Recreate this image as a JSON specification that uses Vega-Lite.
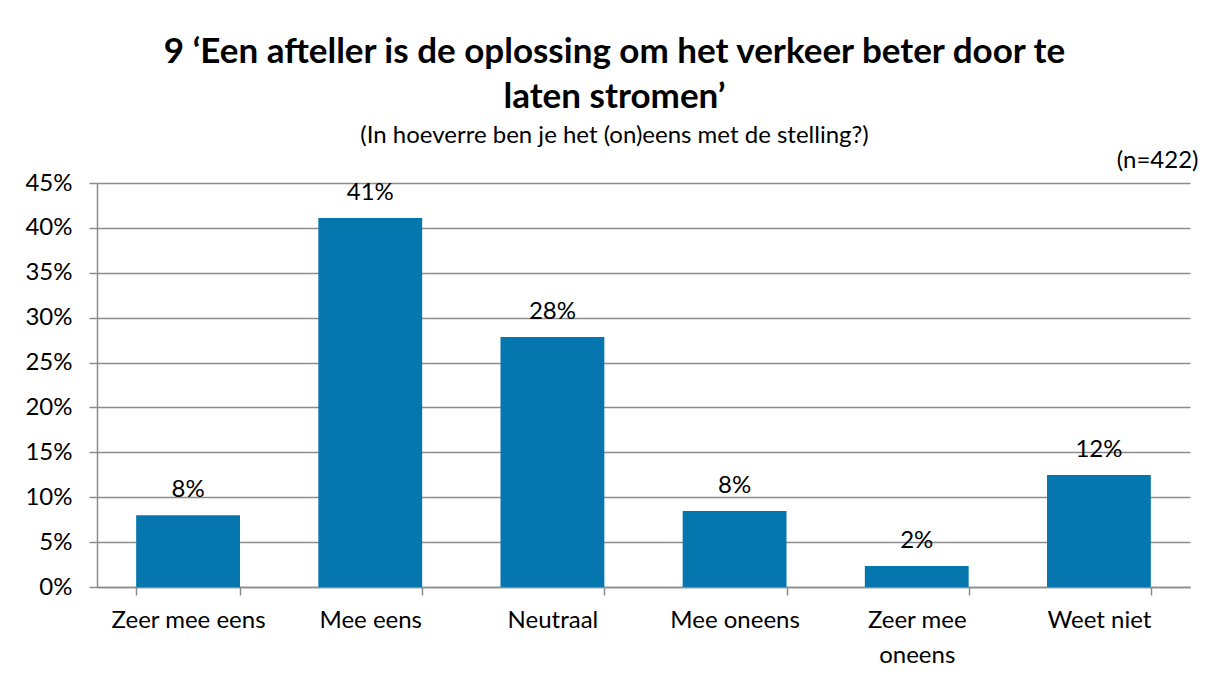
{
  "$schema": "https://vega.github.io/schema/vega-lite/v6.json",
  "autosize": "none",
  "width": 1093,
  "height": 404,
  "padding": {"left": 97, "top": 183, "right": 24, "bottom": 95},
  "background": "white",
  "data": {
    "values": [
      {"cat": "Zeer mee eens", "value": 0.080},
      {"cat": "Mee eens", "value": 0.411},
      {"cat": "Neutraal", "value": 0.2785},
      {"cat": "Mee oneens", "value": 0.0847},
      {"cat": "Zeer mee oneens", "value": 0.0234},
      {"cat": "Weet niet", "value": 0.1247}
    ]
  },
  "title": {
    "text": ["9 ‘Een afteller is de oplossing om het verkeer beter door te", "laten stromen’"],
    "subtitle": "(In hoeverre ben je het (on)eens met de stelling?)",
    "anchor": "middle",
    "dx": -29,
    "offset": 0,
    "font": "Lato",
    "fontSize": 35,
    "fontWeight": "bold",
    "lineHeight": 45,
    "color": "#000000",
    "subtitleFont": "Lato",
    "subtitleFontSize": 24,
    "subtitleColor": "#000000",
    "subtitlePadding": 9
  },
  "encoding": {
    "x": {
      "field": "cat",
      "type": "nominal",
      "sort": null,
      "scale": {"paddingInner": 0.43, "paddingOuter": 0.215},
      "axis": {
        "title": null,
        "labelAngle": 0,
        "labelFont": "Lato",
        "labelFontSize": 24,
        "labelColor": "#000000",
        "labelPadding": 13,
        "labelLineHeight": 35,
        "labelExpr": "datum.value == 'Zeer mee oneens' ? ['Zeer mee', 'oneens'] : datum.value",
        "tickBand": "extent",
        "tickSize": 8,
        "tickColor": "#8c8c8c",
        "domainColor": "#8c8c8c",
        "domainWidth": 1.5,
        "tickWidth": 1.5
      }
    },
    "y": {
      "field": "value",
      "type": "quantitative",
      "scale": {"domain": [0, 0.45]},
      "axis": {
        "values": [0, 0.05, 0.1, 0.15, 0.2, 0.25, 0.3, 0.35, 0.4, 0.45],
        "format": ".0%",
        "labelFont": "Lato",
        "labelFontSize": 24,
        "labelColor": "#000000",
        "labelPadding": 17,
        "tickSize": 8,
        "tickColor": "#8c8c8c",
        "tickWidth": 1.5,
        "domainColor": "#8c8c8c",
        "domainWidth": 1.5,
        "gridColor": "#8c8c8c",
        "gridWidth": 1.5,
        "title": "(n=422)",
        "titleAngle": 0,
        "titleX": 1101,
        "titleY": -23,
        "titleAlign": "right",
        "titleBaseline": "middle",
        "titleFont": "Lato",
        "titleFontSize": 24,
        "titleFontWeight": "normal",
        "titleColor": "#000000"
      }
    }
  },
  "layer": [
    {"mark": {"type": "bar", "color": "#0576AE"}},
    {
      "mark": {"type": "text", "baseline": "bottom", "dy": -13, "font": "Lato", "fontSize": 24, "color": "#000000"},
      "encoding": {"text": {"field": "value", "type": "quantitative", "format": ".0%"}}
    }
  ],
  "config": {"view": {"stroke": null}}
}
